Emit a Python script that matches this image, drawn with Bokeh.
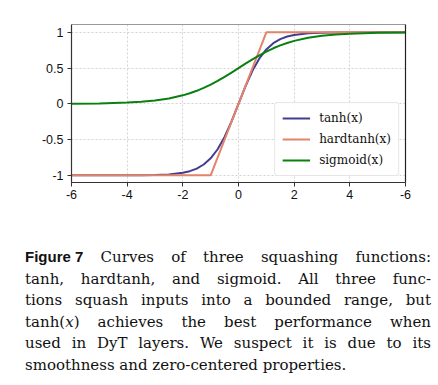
from bokeh.plotting import figure
from bokeh.models import Range1d, LinearAxis, FixedTicker, Div, Legend, LegendItem
from bokeh.layouts import column
from bokeh.embed import file_html
from bokeh.resources import INLINE

# ---- data ----
x_smooth = [-6, -5, -4, -3.5, -3, -2.5, -2, -1.75, -1.5, -1.25, -1, -0.75, -0.5, -0.25,
            0, 0.25, 0.5, 0.75, 1, 1.25, 1.5, 1.75, 2, 2.5, 3, 3.5, 4, 5, 6]
tanh_y = [-1.0, -0.9999, -0.9993, -0.9982, -0.9951, -0.9866, -0.9640, -0.9414, -0.9051,
          -0.8483, -0.7616, -0.6351, -0.4621, -0.2449, 0.0, 0.2449, 0.4621, 0.6351, 0.7616,
          0.8483, 0.9051, 0.9414, 0.9640, 0.9866, 0.9951, 0.9982, 0.9993, 0.9999, 1.0]
sigmoid_y = [0.0025, 0.0067, 0.0180, 0.0293, 0.0474, 0.0759, 0.1192, 0.1480, 0.1824,
             0.2227, 0.2689, 0.3208, 0.3775, 0.4378, 0.5, 0.5622, 0.6225, 0.6792, 0.7311,
             0.7773, 0.8176, 0.8520, 0.8808, 0.9241, 0.9526, 0.9707, 0.9820, 0.9933, 0.9975]
x_hard = [-6, -1, 1, 6]
hardtanh_y = [-1, -1, 1, 1]

x_ticks = [-6, -4, -2, 0, 2, 4, 6]
x_tick_labels = ["-6", "-4", "-2", "0", "2", "4", "-6"]
y_ticks = [-1, -0.5, 0, 0.5, 1]
y_tick_labels = ["-1", "-0.5", "0", "0.5", "1"]

legend_labels = ["tanh(x)", "hardtanh(x)", "sigmoid(x)"]

# ---- figure ----
p = figure(width=438, height=212, output_backend="svg", toolbar_location=None,
           x_range=Range1d(-6, 6), y_range=Range1d(-1.1, 1.11))
p.min_border_left = 71
p.min_border_right = 33
p.min_border_top = 24
p.min_border_bottom = 30
p.outline_line_color = None
p.background_fill_color = "white"
p.border_fill_color = "white"

for ax in (p.xaxis[0], p.yaxis[0]):
    ax.axis_line_color = "#333333"
    ax.axis_line_width = 1.2
    ax.major_tick_line_color = "#333333"
    ax.major_tick_in = 0
    ax.major_tick_out = 4
    ax.minor_tick_line_color = None
    ax.major_label_text_font = "Liberation Sans"
    ax.major_label_text_font_size = "12.5px"
    ax.major_label_text_color = "#111111"

p.xaxis[0].ticker = FixedTicker(ticks=x_ticks)
p.xaxis[0].major_label_overrides = {t: l for t, l in zip(x_ticks, x_tick_labels)}
p.xaxis[0].major_label_standoff = 3
p.yaxis[0].ticker = FixedTicker(ticks=y_ticks)
p.yaxis[0].major_label_overrides = {t: l for t, l in zip(y_ticks, y_tick_labels)}
p.yaxis[0].major_label_standoff = 4

# right and top spines
right_ax = LinearAxis(axis_line_color="#222222", axis_line_width=1.2,
                      major_tick_line_color=None, minor_tick_line_color=None,
                      major_label_text_font_size="0px", ticker=FixedTicker(ticks=[]))
top_ax = LinearAxis(axis_line_color="#999999", axis_line_width=1.2,
                    major_tick_line_color=None, minor_tick_line_color=None,
                    major_label_text_font_size="0px", ticker=FixedTicker(ticks=[]))
p.add_layout(right_ax, "right")
p.add_layout(top_ax, "above")

p.xgrid.ticker = FixedTicker(ticks=x_ticks)
p.ygrid.ticker = FixedTicker(ticks=y_ticks)
for g in (p.xgrid[0], p.ygrid[0]):
    g.grid_line_color = "#c8c8c8"
    g.grid_line_dash = "2 2"
    g.grid_line_width = 0.8

r1 = p.line(x_smooth, tanh_y, line_color="#433d8f", line_width=2)
r2 = p.line(x_hard, hardtanh_y, line_color="#e2836a", line_width=2)
r3 = p.line(x_smooth, sigmoid_y, line_color="#0a8010", line_width=2)

legend = Legend(items=[LegendItem(label=legend_labels[0], renderers=[r1]),
                       LegendItem(label=legend_labels[1], renderers=[r2]),
                       LegendItem(label=legend_labels[2], renderers=[r3])],
                location="bottom_right")
legend.margin = 6
legend.padding = 7
legend.spacing = 5
legend.glyph_width = 28
legend.glyph_height = 16
legend.label_standoff = 9
legend.label_text_font = "DejaVu Serif"
legend.label_text_font_size = "12px"
legend.label_text_color = "#111111"
legend.border_line_color = "#d0d0d0"
legend.border_line_width = 1
legend.border_radius = 3
legend.background_fill_alpha = 0.85
p.add_layout(legend, "center")

# ---- caption ----
lines = [
    '<span style="display:inline-block;font-family:\'Liberation Sans\';font-weight:bold;font-size:15px;">Figure 7</span> Curves of three squashing functions:',
    'tanh, hardtanh, and sigmoid. All three func-',
    'tions squash inputs into a bounded range, but',
    'tanh(<i>x</i>) achieves the best performance when',
    'used in DyT layers. We suspect it is due to its',
    'smoothness and zero-centered properties.',
]
html = ['<div style="box-sizing:border-box;font-family:\'DejaVu Serif\';font-size:15px;line-height:21.6px;'
        'color:#111;width:431px;padding-left:25px;padding-top:34px;">']
for i, ln in enumerate(lines):
    last = i == len(lines) - 1
    align = "left" if last else "justify"
    html.append(f'<div style="text-align:justify;text-align-last:{align};white-space:nowrap;">{ln}</div>')
html.append('</div>')
caption = Div(text="".join(html), width=438, height=173, margin=(0, 0, 0, 0))

layout = column(p, caption, spacing=0)
open("out.html", "w").write(file_html(layout, INLINE))
